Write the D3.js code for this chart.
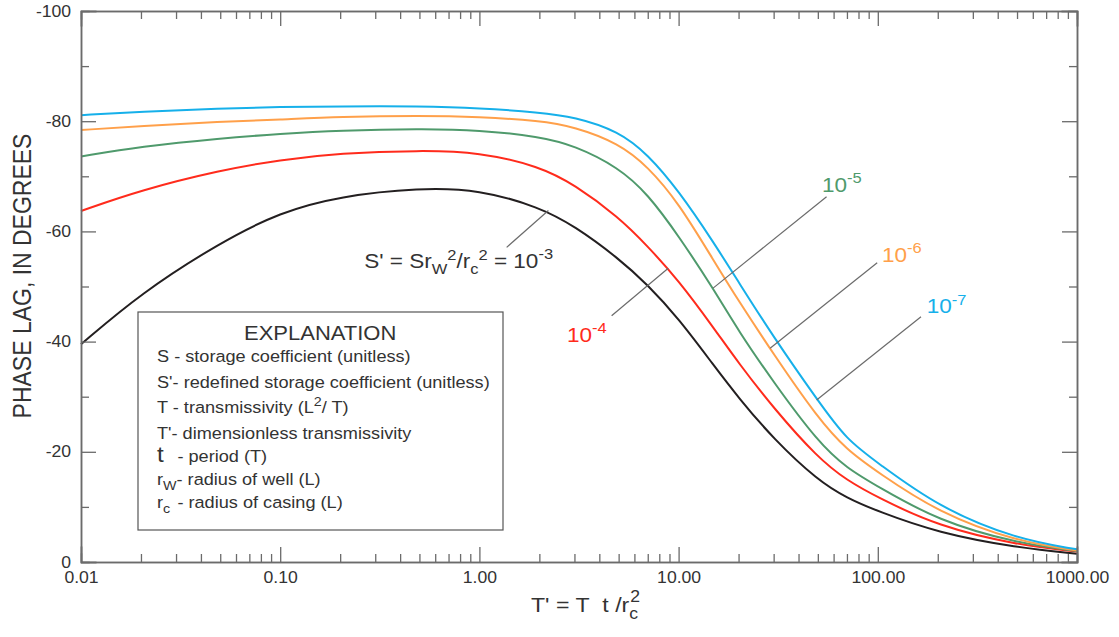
<!DOCTYPE html>
<html>
<head>
<meta charset="utf-8">
<script src="https://cdn.jsdelivr.net/npm/d3@7"></script>
<style>
  body { margin: 0; background: #fff; }
  text { font-family: Arial, "Liberation Sans", sans-serif; fill: #333; }
</style>
</head>
<body>
<svg id="chart" width="1119" height="637"></svg>
<script>
// dimensionless transmissivity T' (x) and phase lag in degrees (y) for each S'
const tPrime = [0.01, 0.02, 0.05, 0.1, 0.2, 0.5, 1, 2, 3, 5, 7, 10, 15, 20, 30, 50, 70, 100, 200, 500, 1000];
const lagS3 = [-39.5, -48.8, -58.0, -63.5, -66.4, -67.9, -67.6, -64.4, -61.0, -55.1, -50.3, -44.2, -35.7, -29.8, -22.3, -14.8, -11.6, -9.2, -5.3, -2.6, -1.5];
const lagS4 = [-63.7, -67.5, -71.1, -73.0, -74.2, -74.7, -74.4, -71.8, -68.5, -62.6, -57.3, -51.1, -42.5, -36.1, -27.9, -18.9, -14.8, -11.7, -6.5, -3.1, -1.9];
const lagS5 = [-73.6, -75.4, -76.9, -77.7, -78.3, -78.6, -78.4, -77.2, -75.6, -71.6, -66.8, -59.2, -49.5, -41.9, -32.6, -21.8, -17.0, -13.7, -7.5, -3.4, -2.0];
const lagS6 = [-78.4, -79.1, -79.9, -80.3, -80.8, -81.0, -80.8, -80.1, -79.0, -76.0, -71.8, -65.2, -54.7, -47.4, -37.7, -26.1, -20.3, -16.3, -9.0, -3.7, -2.1];
const lagS7 = [-81.1, -81.7, -82.3, -82.6, -82.7, -82.7, -82.4, -81.6, -80.8, -78.2, -74.0, -67.4, -58.0, -50.8, -40.8, -29.3, -22.1, -18.0, -10.0, -4.1, -2.3];

const seriesColors = ["#231f20", "#ff2b1c", "#4f9a6c", "#ffa04a", "#16b0ea"];
const seriesLags = [lagS3, lagS4, lagS5, lagS6, lagS7];

// curve labels: exponent, anchor of text and leader line ends (T', degrees)
const labelExp = ["-3", "-4", "-5", "-6", "-7"];
const labelT = [0.264, 2.75, 52.5, 105, 176];
const labelDeg = [-53.4, -39.9, -67.2, -54.5, -45.1];
const leaderFromT = [1.37, 4.61, 55.3, 99.3, 164.8];
const leaderFromDeg = [-57.1, -44.7, -66.3, -54.3, -44.5];
const leaderToT = [2.22, 8.87, 14.9, 28.8, 49.3];
const leaderToDeg = [-63.8, -53.3, -49.7, -38.8, -29.4];

const xTicks = [0.01, 0.1, 1, 10, 100, 1000];
const yTicks = [-100, -80, -60, -40, -20, 0];
const yMinorTicks = [-90, -70, -50, -30, -10];

const STRETCH = 1.1;
const margin = {left: 81, right: 1077, top: 11, bottom: 562};

const svg = d3.select("#chart");

const xScale = d3.scaleLog().domain([0.01, 1000]).range([margin.left, margin.right]);
const yScale = d3.scaleLinear().domain([0, -100]).range([margin.bottom, margin.top]);

// minor log ticks 2..9 in each decade
let xMinor = [];
for (let d = 0.01; d < 1000; d *= 10) {
    for (let k = 2; k <= 9; k++) xMinor.push(d * k);
}

//curves
let line = d3.line()
    .x(d => xScale(d[0]))
    .y(d => yScale(d[1]))
    .curve(d3.curveBasis);

svg.append("g").attr("id", "curves").selectAll("path")
    .data(seriesLags)
    .join("path")
    .attr("fill", "none")
    .attr("stroke", (d, i) => seriesColors[i])
    .attr("stroke-width", 2)
    .attr("d", d => line(tPrime.map((t, j) => [t, d[j]])));

//frame and ticks
const axisColor = "#6b6b6b";
function styleAxis(g) {
    g.select(".domain").attr("stroke", axisColor).attr("stroke-width", 1.5);
    g.selectAll(".tick line").attr("stroke", axisColor).attr("stroke-width", 1.3);
    g.selectAll(".tick text")
        .attr("fill", "#333")
        .style("font-size", "16px")
        .attr("transform", `scale(${STRETCH},1)`);
}

svg.append("g").attr("transform", `translate(0,${margin.bottom})`)
    .call(d3.axisBottom(xScale).tickValues(xMinor).tickSize(-8).tickFormat(""))
    .call(styleAxis);
svg.append("g").attr("transform", `translate(0,${margin.bottom})`)
    .call(d3.axisBottom(xScale).tickValues(xTicks).tickSize(-15).tickPadding(10).tickFormat(d3.format(".2f")))
    .call(styleAxis);
svg.append("g").attr("transform", `translate(0,${margin.top})`)
    .call(d3.axisTop(xScale).tickValues(xMinor).tickSize(-8).tickFormat(""))
    .call(styleAxis);
svg.append("g").attr("transform", `translate(0,${margin.top})`)
    .call(d3.axisTop(xScale).tickValues(xTicks).tickSize(-15).tickFormat(""))
    .call(styleAxis);

svg.append("g").attr("transform", `translate(${margin.left},0)`)
    .call(d3.axisLeft(yScale).tickValues(yMinorTicks).tickSize(-8).tickFormat(""))
    .call(styleAxis);
svg.append("g").attr("transform", `translate(${margin.left},0)`)
    .call(d3.axisLeft(yScale).tickValues(yTicks).tickSize(-15).tickPadding(9).tickFormat(d => String(d)))
    .call(styleAxis);
svg.append("g").attr("transform", `translate(${margin.right},0)`)
    .call(d3.axisRight(yScale).tickValues(yMinorTicks).tickSize(-8).tickFormat(""))
    .call(styleAxis);
svg.append("g").attr("transform", `translate(${margin.right},0)`)
    .call(d3.axisRight(yScale).tickValues(yTicks).tickSize(-15).tickFormat(""))
    .call(styleAxis);

svg.selectAll(".domain").attr("stroke-linecap", "square");

function stretchText(x, y, size) {
    return svg.append("text")
        .attr("transform", `translate(${x},${y}) scale(${STRETCH},1)`)
        .style("font-size", size + "px");
}

//axis titles
svg.append("text")
    .attr("transform", `translate(31,276) rotate(-90) scale(1,${STRETCH})`)
    .attr("text-anchor", "middle")
    .style("font-size", "23px")
    .text("PHASE LAG, IN DEGREES");

let xt = stretchText(531, 612, 21);
xt.append("tspan").text("T' = T\u00a0\u00a0t /r");
xt.append("tspan").text("c").style("font-size", "16px").attr("dy", 7);
xt.append("tspan").text("2").style("font-size", "16px").attr("dx", -7).attr("dy", -17);

//curve labels with leaders
svg.append("g").selectAll("line")
    .data(labelExp)
    .join("line")
    .attr("x1", (d, i) => xScale(leaderFromT[i]))
    .attr("y1", (d, i) => yScale(leaderFromDeg[i]))
    .attr("x2", (d, i) => xScale(leaderToT[i]))
    .attr("y2", (d, i) => yScale(leaderToDeg[i]))
    .attr("stroke", "#6b6b6b")
    .attr("stroke-width", 1.2);

labelExp.forEach((e, i) => {
    let t = stretchText(xScale(labelT[i]), yScale(labelDeg[i]), 20.5);
    let col = i === 0 ? "#333" : seriesColors[i];
    t.style("fill", col);
    if (i === 0) {
        t.append("tspan").text("S' = Sr");
        t.append("tspan").text("W").style("font-size", "15px").attr("dy", 6);
        t.append("tspan").text("2").style("font-size", "15px").attr("dy", -14);
        t.append("tspan").text("/r").attr("dy", 8);
        t.append("tspan").text("c").style("font-size", "15px").attr("dy", 6);
        t.append("tspan").text("2").style("font-size", "15px").attr("dy", -14);
        t.append("tspan").text(" = 10").attr("dy", 8);
    } else {
        t.append("tspan").text("10");
    }
    t.append("tspan").text(e).style("font-size", "15px").attr("dy", -9);
});

//explanation box
svg.append("rect")
    .attr("x", 138).attr("y", 312)
    .attr("width", 365).attr("height", 218)
    .attr("fill", "#fff")
    .attr("stroke", "#555")
    .attr("stroke-width", 1.2);

stretchText(322 - 78, 340, 20).text("EXPLANATION");

function legendRow(y) { return stretchText(157, y, 16.5); }

legendRow(362).text("S - storage coefficient (unitless)");
legendRow(388).text("S'- redefined storage coefficient (unitless)");
let r3 = legendRow(413);
r3.append("tspan").text("T - transmissivity (L");
r3.append("tspan").text("2").style("font-size", "13px").attr("dy", -7);
r3.append("tspan").text("/ T)").attr("dy", 7);
legendRow(439).text("T'- dimensionless transmissivity");
let r5 = legendRow(462);
r5.append("tspan").text("t").style("font-size", "22px");
r5.append("tspan").text(" - period (T)").attr("x", 14);
let r6 = legendRow(485);
r6.append("tspan").text("r");
r6.append("tspan").text("W").style("font-size", "13px").attr("dy", 5);
r6.append("tspan").text("- radius of well (L)").attr("dy", -5);
let r7 = legendRow(508);
r7.append("tspan").text("r");
r7.append("tspan").text("c").style("font-size", "13px").attr("dy", 5);
r7.append("tspan").text(" - radius of casing (L)").attr("dy", -5).attr("x", 14);
</script>
</body>
</html>
